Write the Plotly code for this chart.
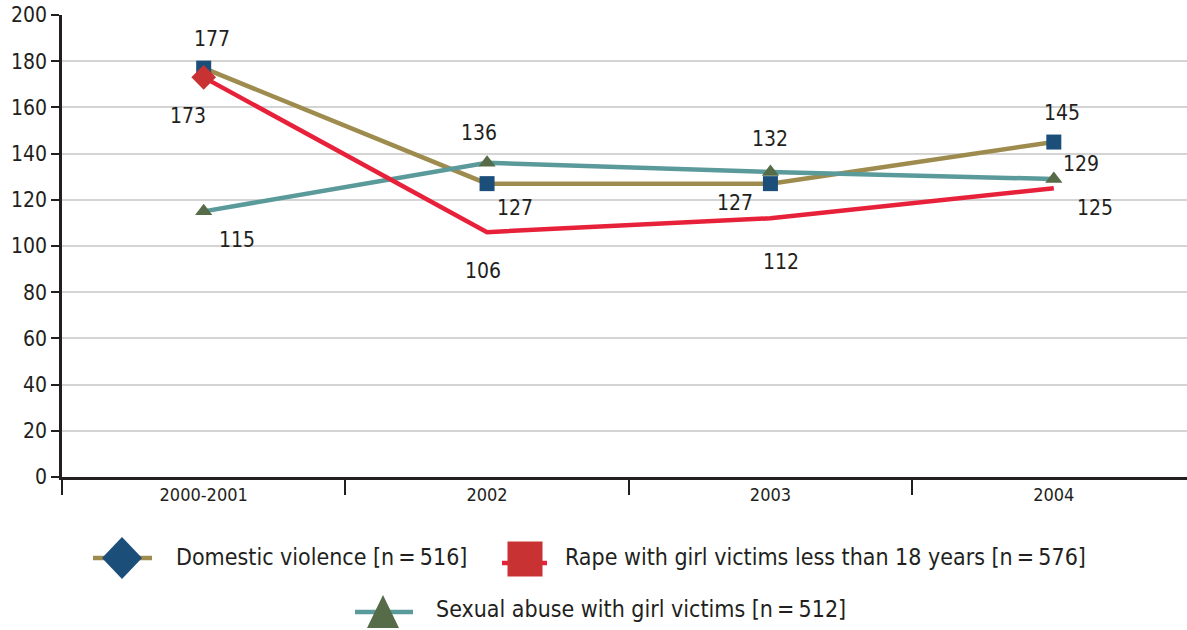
import plotly.graph_objects as go

categories = ["2000-2001", "2002", "2003", "2004"]
domestic = [177, 127, 127, 145]
rape = [173, 106, 112, 125]
sexual = [115, 136, 132, 129]
names = ["Domestic violence [n\u2009=\u2009516]",
         "Rape with girl victims less than 18 years [n\u2009=\u2009576]",
         "Sexual abuse with girl victims [n\u2009=\u2009512]"]
y_ticks = list(range(0, 201, 20))

FONT = "DejaVu Sans Condensed, Liberation Sans Narrow, Arial Narrow, Roboto, sans-serif"
TXT = "#231f20"
OLIVE = "#9e8b4e"
BLUE = "#1b4f7a"
RED = "#e8213a"
RED_M = "#c93233"
TEAL = "#5b9a9b"
GREEN = "#566b48"

W, H = 1187, 630
L, R, T, B = 62, 0, 15, 153
PW, PH = W - L - R, H - T - B

fig = go.Figure()
fig.add_trace(go.Scatter(x=categories, y=domestic, mode="lines+markers",
                         line=dict(color=OLIVE, width=4.5),
                         marker=dict(symbol="square", size=15, color=BLUE),
                         showlegend=False))
fig.add_trace(go.Scatter(x=categories, y=sexual, mode="lines+markers",
                         line=dict(color=TEAL, width=4.5),
                         marker=dict(symbol="triangle-up", size=15, color=GREEN),
                         showlegend=False))
fig.add_trace(go.Scatter(x=categories, y=rape, mode="lines",
                         line=dict(color=RED, width=4.5),
                         showlegend=False))
fig.add_trace(go.Scatter(x=categories[:1], y=rape[:1], mode="markers",
                         marker=dict(symbol="diamond", size=19, color=RED_M,
                                     opacity=1, line=dict(width=0)),
                         showlegend=False))

# data labels (pixel offsets relative to each point)
offsets = {
    "dom": [(8, -29), (28, 24), (-35, 19), (8, -29)],
    "rape": [(-16, 39), (-4, 39), (11, 44), (41, 20)],
    "sex": [(33, 29), (-8, -30), (0, -33), (27, -15)],
}
for key, vals in (("dom", domestic), ("rape", rape), ("sex", sexual)):
    for i, (v, (dx, dy)) in enumerate(zip(vals, offsets[key])):
        fig.add_annotation(x=i, y=v, text=str(v), showarrow=False,
                           xshift=dx, yshift=-dy,
                           font=dict(family=FONT, size=21, color=TXT))

# manual legend
def px(xp):
    return (xp - L) / PW
def py(yp):
    return (H - B - yp) / PH

def leg_line(x0, x1, y, color):
    fig.add_shape(type="line", xref="paper", yref="paper",
                  x0=px(x0), x1=px(x1), y0=py(y), y1=py(y),
                  line=dict(color=color, width=4.5))

leg_line(93, 152, 558, OLIVE)
fig.add_shape(type="path", xref="paper", yref="paper",
              xsizemode="pixel", ysizemode="pixel", xanchor=px(122), yanchor=py(558),
              path="M -20 0 L 0 21 L 20 0 L 0 -21 Z",
              fillcolor=BLUE, line=dict(width=0))
leg_line(502, 547, 563, RED)
fig.add_shape(type="rect", xref="paper", yref="paper",
              xsizemode="pixel", ysizemode="pixel", xanchor=px(525), yanchor=py(559),
              x0=-17.5, x1=17.5, y0=-17.5, y1=17.5,
              fillcolor=RED_M, line=dict(width=0))
leg_line(355, 413, 612, TEAL)
fig.add_shape(type="path", xref="paper", yref="paper",
              xsizemode="pixel", ysizemode="pixel", xanchor=px(383), yanchor=py(612),
              path="M -16 -16 L 0 17 L 16 -16 Z",
              fillcolor=GREEN, line=dict(width=0))

for text, x0, y0 in ((names[0], 174, 557), (names[1], 563, 557), (names[2], 434, 609)):
    fig.add_annotation(xref="paper", yref="paper", x=px(x0), y=py(y0),
                       xanchor="left", yanchor="middle", text=text, showarrow=False,
                       font=dict(family=FONT, size=23, color=TXT))

fig.update_layout(
    width=W, height=H,
    margin=dict(l=L, r=R, t=T, b=B),
    paper_bgcolor="white", plot_bgcolor="white",
    font=dict(family=FONT, color=TXT),
    showlegend=False,
)
fig.update_xaxes(type="category", range=[-0.5, 3.47],
                 showgrid=False, showline=True, linecolor="#231f20", linewidth=2.5,
                 ticks="outside", tickson="boundaries", ticklen=15, tickwidth=2,
                 tickcolor="#231f20", tickfont=dict(family=FONT, size=18, color=TXT),
                 zeroline=False)
fig.update_yaxes(range=[0, 200], tickvals=y_ticks,
                 showgrid=True, gridcolor="#d4d4d4", gridwidth=2,
                 showline=True, linecolor="#231f20", linewidth=2.5,
                 ticks="outside", ticklen=8, tickwidth=2, tickcolor="#231f20",
                 tickfont=dict(family=FONT, size=21, color=TXT), zeroline=False)

fig.write_html("out.html")
